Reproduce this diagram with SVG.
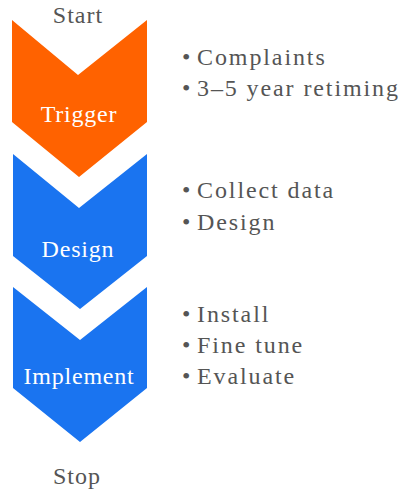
<svg xmlns="http://www.w3.org/2000/svg" width="403" height="492" viewBox="0 0 403 492">
  <style>
    .stage { fill: #ffffff; text-anchor: middle; letter-spacing: 0.8px; }
    .term { fill: #555555; text-anchor: middle; letter-spacing: 1px; }
    .item { fill: #555555; letter-spacing: 1.9px; }
    .orange { fill: #ff6200; }
    .blue { fill: #1a74f0; }
  </style>
  <rect width="403" height="492" fill="#ffffff"/>

  <g id="start">
    <text class="term" x="78" y="23" font-family="Liberation Serif" font-size="24">Start</text>
  </g>

  <g id="trigger">
    <path class="orange" d="M12,20 L78,75 L147,20 L147,122 L79,177 L12,122 Z"/>
    <text class="stage" x="79" y="122" font-family="Liberation Serif" font-size="24">Trigger</text>
  </g>

  <g id="design">
    <path class="blue" d="M13,154 L79,208 L147,154 L147,256 L80,309 L13,256 Z"/>
    <text class="stage" x="78" y="257" font-family="Liberation Serif" font-size="24">Design</text>
  </g>

  <g id="implement">
    <path class="blue" d="M13,287 L80,340 L147,287 L147,388 L80,442 L13,388 Z"/>
    <text class="stage" x="79" y="384" font-family="Liberation Serif" font-size="24">Implement</text>
  </g>

  <g id="stop">
    <text class="term" x="77" y="484" font-family="Liberation Serif" font-size="24">Stop</text>
  </g>

  <g id="trigger-notes">
    <text class="item" y="65" font-family="Liberation Serif" font-size="24"><tspan x="182">•</tspan><tspan x="197">Complaints</tspan></text>
    <text class="item" y="96" font-family="Liberation Serif" font-size="24"><tspan x="182">•</tspan><tspan x="197">3–5 year retiming</tspan></text>
  </g>

  <g id="design-notes">
    <text class="item" y="198" font-family="Liberation Serif" font-size="24"><tspan x="182">•</tspan><tspan x="197">Collect data</tspan></text>
    <text class="item" y="230" font-family="Liberation Serif" font-size="24"><tspan x="182">•</tspan><tspan x="197">Design</tspan></text>
  </g>

  <g id="implement-notes">
    <text class="item" y="322" font-family="Liberation Serif" font-size="24"><tspan x="182">•</tspan><tspan x="197">Install</tspan></text>
    <text class="item" y="353" font-family="Liberation Serif" font-size="24"><tspan x="182">•</tspan><tspan x="197">Fine tune</tspan></text>
    <text class="item" y="384" font-family="Liberation Serif" font-size="24"><tspan x="182">•</tspan><tspan x="197">Evaluate</tspan></text>
  </g>

  <g id="connectors"></g>
</svg>
